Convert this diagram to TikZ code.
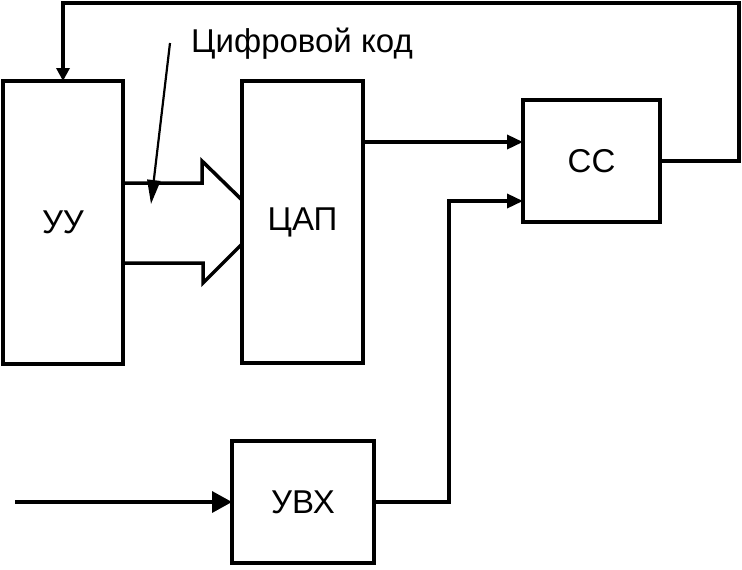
\documentclass[tikz,border=0pt]{standalone}
\usepackage{fontspec}
\setmainfont{Liberation Sans}
\usetikzlibrary{arrows.meta}
\begin{document}
\begin{tikzpicture}[x=1pt,y=-1pt,
  blk/.style={draw=black,line width=3.5pt,inner sep=0pt,outer sep=0pt,
    font=\fontsize{33}{40}\selectfont},
  wire/.style={draw=black,line width=3.5pt,line join=miter},
  tipA/.style={-{Triangle[length=16pt,width=14pt]}},
  tipF/.style={-{Triangle[length=13pt,width=13pt]}},
  tipB/.style={-{Triangle[length=20pt,width=21pt]}},
  tipC/.style={-{Triangle[length=24pt,width=13pt]}}]
\useasboundingbox (0,0) rectangle (742,570);
\fill[white] (0,0) rectangle (742,570);
% blocks
\node[blk,minimum width=120pt,minimum height=283pt] (uu) at (63,222.5) {УУ};
\node[blk,minimum width=121pt,minimum height=282pt] (dac) at (302.5,222) {ЦАП};
\node[blk,minimum width=137pt,minimum height=122pt] (ss) at (591.5,161) {СС};
\node[blk,minimum width=142pt,minimum height=122pt] (uvx) at (303,502) {УВХ};
% label
\node[font=\fontsize{33}{40}\selectfont,anchor=base,inner sep=0pt] (lbl) at (302,52) {Цифровой код};
% helper coordinates
\coordinate (fbR) at (739,3);
\coordinate (yA) at (0,142);
\coordinate (bend) at (449,201);
\coordinate (in) at (15,502);
\coordinate (codeTail) at (170,43);
\coordinate (codeTip) at (151,204);
\coordinate (t1) at (0,183);
\coordinate (t2) at (0,200);
\coordinate (b1) at (0,263);
\coordinate (b2) at (0,244);
% feedback loop
\draw[wire,tipF] (ss.east) -| (fbR) -| (uu.north);
% DAC -> SS
\draw[wire,tipA] (dac.east |- yA) -- (ss.west |- yA);
% UVX -> SS
\draw[wire,tipA] (uvx.east) -| (bend) -- (ss.west |- bend);
% input -> UVX
\draw[wire,tipB] (in) -- (uvx.west);
% block arrow UU -> DAC
\draw[wire] (uu.east |- t1) -- (202,183) -- (202,161) -- (dac.west |- t2);
\draw[wire] (uu.east |- b1) -- (203,263) -- (203,283) -- (dac.west |- b2);
% digital code pointer
\draw[draw=black,line width=2.2pt,tipC] (codeTail) -- (codeTip);
\end{tikzpicture}
\end{document}
